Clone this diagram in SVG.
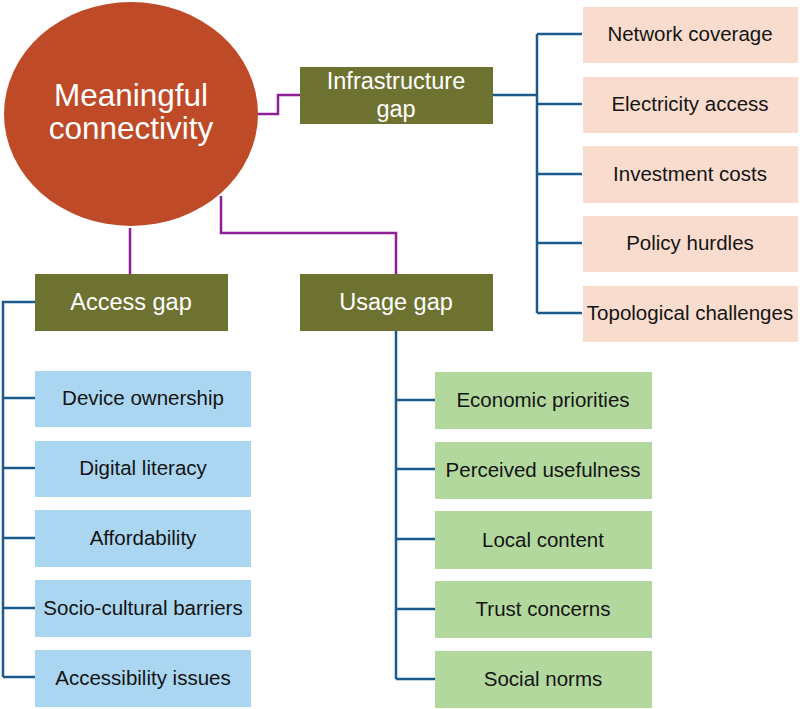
<svg xmlns="http://www.w3.org/2000/svg" width="800" height="709" viewBox="0 0 800 709">
<style>
text{font-family:"Liberation Sans",Arial,sans-serif;text-anchor:middle}
.gap rect{fill:#6e7231}
.gap text{fill:#ffffff;font-size:23.5px}
.leaf text{fill:#141414;font-size:20.5px}
.pink rect{fill:#f9dccd}
.blue rect{fill:#aad6f2}
.green rect{fill:#b3d89d}
.purple{fill:none;stroke:#8e1f96;stroke-width:2.5}
.bline{fill:none;stroke:#1b5a8c;stroke-width:2.5}
</style>
<rect width="800" height="709" fill="#ffffff"/>
<g id="connectors">
<path class="purple" d="M257 114 H278 V95 H300"/>
<path class="purple" d="M130 228 V274"/>
<path class="purple" d="M221 196 V233 H396 V274"/>
<path class="bline" d="M493 95 H537 M537 34 V313 M537 34 H582 M537 104 H582 M537 174 H582 M537 243 H582 M537 313 H582"/>
<path class="bline" d="M35 302 H3 V677 M3 398 H35 M3 468 H35 M3 538 H35 M3 608 H35 M3 677 H35"/>
<path class="bline" d="M396 331 V679 M396 400 H435 M396 469 H435 M396 539 H435 M396 609 H435 M396 679 H435"/>
</g>
<g id="main">
<ellipse cx="131" cy="114" rx="127" ry="112" fill="#bf4a28"/>
<text x="131" y="106" font-size="31.5" fill="#ffffff">Meaningful</text>
<text x="131" y="139" font-size="31.5" fill="#ffffff">connectivity</text>
</g>
<g id="infra" class="gap"><rect x="300" y="67" width="193" height="57"/><text x="396" y="89">Infrastructure</text><text x="396" y="117">gap</text></g>
<g id="access" class="gap"><rect x="35" y="274" width="193" height="57"/><text x="131" y="310">Access gap</text></g>
<g id="usage" class="gap"><rect x="300" y="274" width="193" height="57"/><text x="396" y="310">Usage gap</text></g>
<g id="network" class="leaf pink"><rect x="583" y="7" width="215" height="56"/><text x="690" y="41">Network coverage</text></g>
<g id="electricity" class="leaf pink"><rect x="583" y="77" width="215" height="56"/><text x="690" y="111">Electricity access</text></g>
<g id="investment" class="leaf pink"><rect x="583" y="146" width="215" height="57"/><text x="690" y="181">Investment costs</text></g>
<g id="policy" class="leaf pink"><rect x="583" y="216" width="215" height="56"/><text x="690" y="250">Policy hurdles</text></g>
<g id="topological" class="leaf pink"><rect x="583" y="286" width="215" height="56"/><text x="690" y="320">Topological challenges</text></g>
<g id="device" class="leaf blue"><rect x="35" y="371" width="216" height="56"/><text x="143" y="405">Device ownership</text></g>
<g id="literacy" class="leaf blue"><rect x="35" y="441" width="216" height="56"/><text x="143" y="475">Digital literacy</text></g>
<g id="afford" class="leaf blue"><rect x="35" y="510" width="216" height="57"/><text x="143" y="545">Affordability</text></g>
<g id="socio" class="leaf blue"><rect x="35" y="580" width="216" height="57"/><text x="143" y="615">Socio-cultural barriers</text></g>
<g id="accessibility" class="leaf blue"><rect x="35" y="650" width="216" height="57"/><text x="143" y="685">Accessibility issues</text></g>
<g id="economic" class="leaf green"><rect x="435" y="372" width="217" height="57"/><text x="543" y="407">Economic priorities</text></g>
<g id="perceived" class="leaf green"><rect x="435" y="442" width="217" height="57"/><text x="543" y="477">Perceived usefulness</text></g>
<g id="local" class="leaf green"><rect x="435" y="511" width="217" height="58"/><text x="543" y="547">Local content</text></g>
<g id="trust" class="leaf green"><rect x="435" y="581" width="217" height="57"/><text x="543" y="616">Trust concerns</text></g>
<g id="social" class="leaf green"><rect x="435" y="651" width="217" height="57"/><text x="543" y="686">Social norms</text></g>
</svg>
